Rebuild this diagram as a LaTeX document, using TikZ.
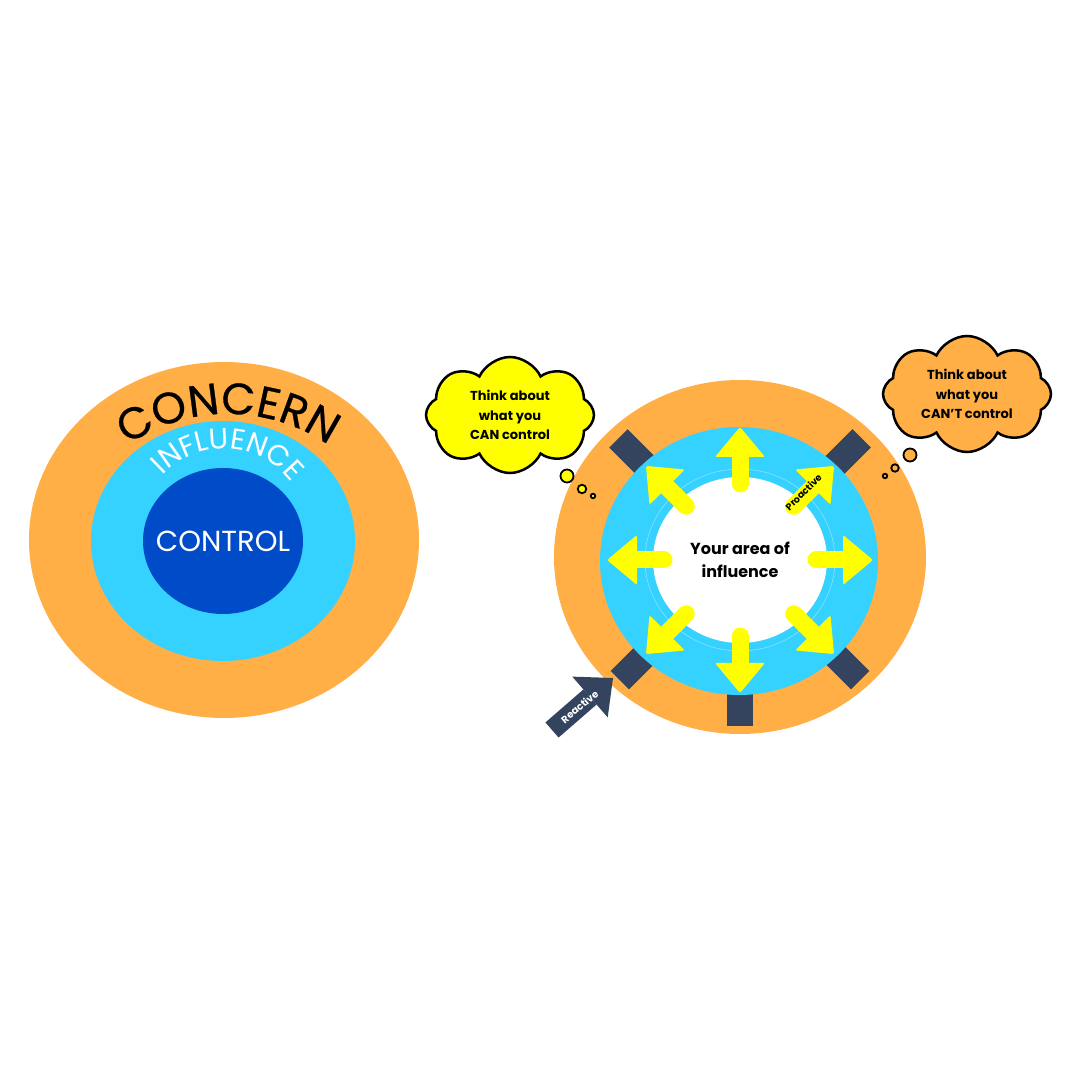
\documentclass[tikz,border=0pt]{standalone}
\usepackage{fontspec}
\setmainfont{Poppins}
\newfontface\heavy{Poppins}[FakeBold=0.6]
\usetikzlibrary{arrows.meta,positioning,calc,shapes.geometric,shapes.symbols,decorations.text}
\definecolor{conc}{HTML}{FFAF45}
\definecolor{infl}{HTML}{35D1FF}
\definecolor{ctrl}{HTML}{004CC8}
\definecolor{slate}{HTML}{34445F}
\definecolor{yel}{HTML}{FFFF00}
\begin{document}
\begin{tikzpicture}[x=1pt,y=1pt,
disc/.style={ellipse,inner sep=0pt},
thought/.style={cloud,cloud puffs=8,cloud puff arc=130,cloud ignores aspect,draw=black,line width=2.5pt,align=center,font=\bfseries\fontsize{13}{19.5}\selectfont,minimum width=168pt,minimum height=116pt,inner sep=0pt},
bub/.style={circle,draw=black,line width=1.8pt,inner sep=0pt},
slab/.style={fill=slate,minimum width=26pt,minimum height=48pt,inner sep=0pt},
shaft/.style={yel,line width=17pt,line cap=round},
head/.style={fill=yel,rounded corners=2pt}]
\fill[white] (0,0) rectangle (1080,1080);
\useasboundingbox (0,0) rectangle (1080,1080);
% circles of concern
\node[disc,fill=conc,minimum width=390pt,minimum height=356pt] (concern) at (224,540) {};
\node[disc,fill=infl,minimum width=264pt,minimum height=240pt] (influence) at (223,539) {};
\node[disc,fill=ctrl,minimum width=160pt,minimum height=146pt] (control) at (223,539) {};
\node[text=white,font=\fontsize{29}{29}\selectfont] (ctrltxt) at (control) {CONTROL};
\path[decorate,decoration={text along path,text align=center,text color=black,text={|\heavy\fontsize{44}{44}\selectfont|CONCERN}}] ($(228,489)+(131:177pt)$) arc[start angle=131,end angle=49,radius=177pt];
\path[decorate,decoration={text along path,text align=center,text color=white,text={|\fontsize{29}{29}\selectfont|INFLUENCE}}] ($(224,546)+(140:85pt)$) arc[start angle=140,end angle=34,radius=85pt];
% area of influence
\node[disc,fill=conc,minimum width=372pt,minimum height=354pt] (outer) at (740,523) {};
\coordinate (hub) at (740,520);
\foreach \a/\r in {45/148,135/148,225/146,315/146,270/142}
  \node[slab,rotate=\a-90] (s\a) at ($(hub)+(\a:\r pt)$) {};
\node[disc,fill=infl,minimum width=278pt,minimum height=268pt] (ring) at (739,519) {};
\draw[white!40!infl,line width=0.6pt] (hub) ellipse [x radius=95pt,y radius=91pt];
\node[disc,fill=white,minimum width=174pt,minimum height=166pt] (area) at (hub) {};
\node[align=center,font=\bfseries\fontsize{16}{23}\selectfont] (areatxt) at (area) {Your area of\\influence};
\foreach \a in {0,45,...,315}{
  \coordinate (t\a) at ($(hub)+(\a:76pt)$);
  \coordinate (b\a) at ($(hub)+(\a:103pt)$);
  \coordinate (h\a) at ($(hub)+(\a:133pt)$);
  \draw[shaft] (t\a) -- (b\a);
  \fill[head] (h\a) -- ($(b\a)+(\a+90:25pt)$) -- ($(b\a)+(\a-90:25pt)$) -- cycle;}
\node[rotate=45,font=\bfseries\fontsize{9.5}{9.5}\selectfont] (pro) at ($(hub)+(47:93pt)$) {Proactive};
% reactive push
\coordinate (rt) at (552,350);
\coordinate (rb) at (590,383);
\coordinate (rh) at (613,402);
\draw[slate,line width=20pt] (rt) -- (rb);
\fill[slate] (rh) -- ($(rb)+(131:27pt)$) -- ($(rb)+(-49:27pt)$) -- cycle;
\node[rotate=40,text=white,font=\bfseries\fontsize{10}{10}\selectfont] (re) at ($(rt)!0.45!(rh)$) {Reactive};
% thought clouds
\node[thought,fill=yel] (can) at (510,665) {Think about\\what you\\CAN control};
\node[bub,fill=yel,minimum size=13pt] (c1) at (567,604) {};
\node[bub,fill=yel,minimum size=8.5pt] (c2) at (582,591) {};
\node[bub,fill=yel,minimum size=4.5pt] (c3) at (593,584) {};
\node[thought,fill=conc] (cant) at (967,686) {Think about\\what you\\CAN’T control};
\node[bub,fill=conc,minimum size=13pt] (d1) at (910,625) {};
\node[bub,fill=conc,minimum size=7.5pt] (d2) at (895,612) {};
\node[bub,fill=conc,minimum size=4.5pt] (d3) at (885,604) {};
\end{tikzpicture}
\end{document}
